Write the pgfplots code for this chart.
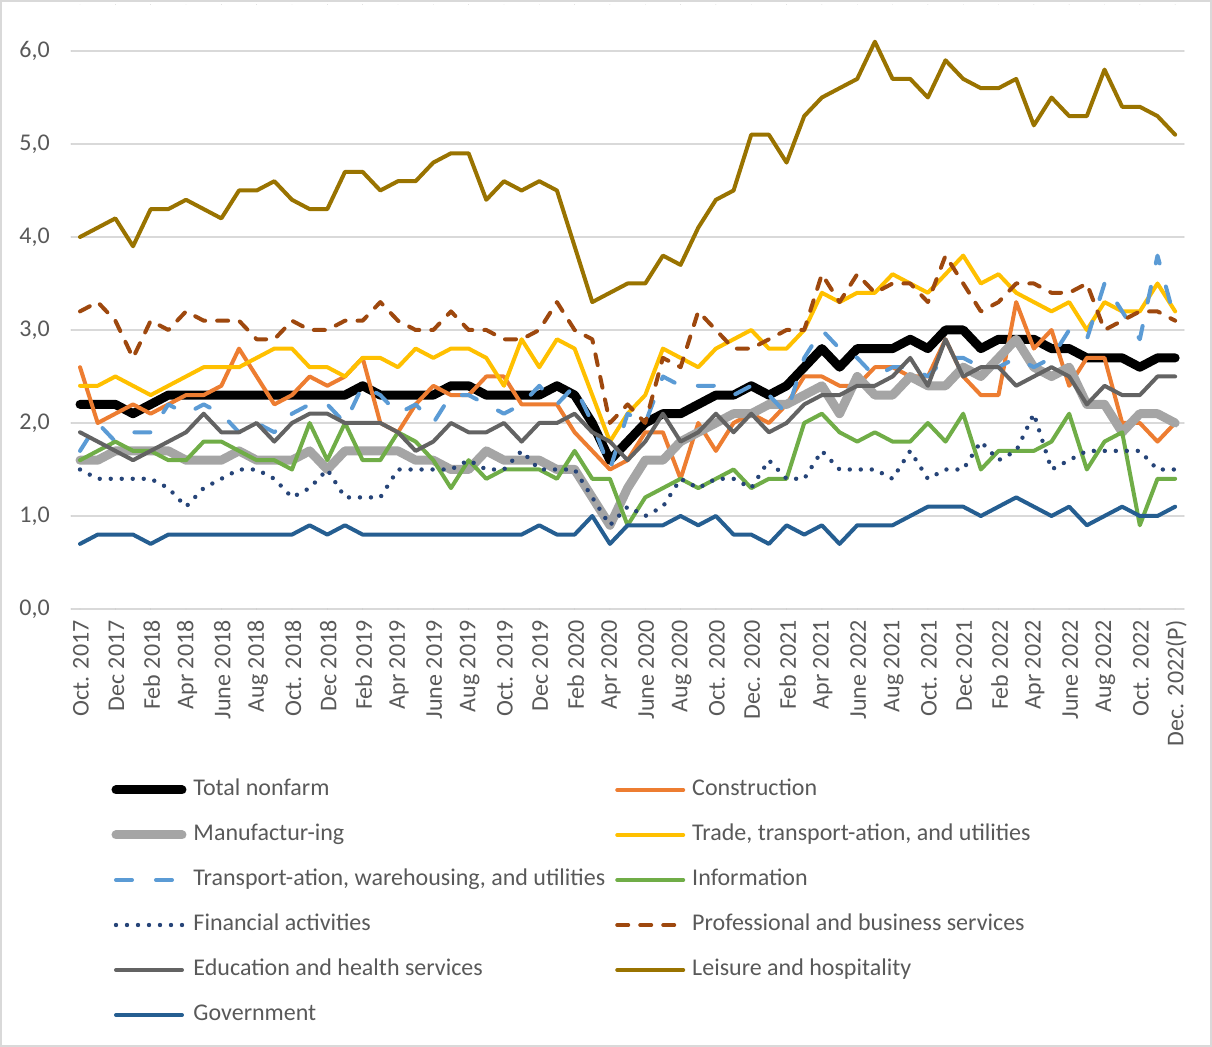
\documentclass[border=0pt]{standalone}
\usepackage{fontspec}
\setmainfont{Carlito}
\usepackage{pgfplots}
\pgfplotsset{compat=1.18}
\usepackage{pgfplotstable}
\definecolor{gridc}{HTML}{D9D9D9}
\definecolor{labc}{HTML}{595959}
\definecolor{cC}{HTML}{ED7D31}
\definecolor{cM}{HTML}{A5A5A5}
\definecolor{cTr}{HTML}{FFC000}
\definecolor{cTw}{HTML}{5B9BD5}
\definecolor{cI}{HTML}{70AD47}
\definecolor{cF}{HTML}{264478}
\definecolor{cP}{HTML}{9E480E}
\definecolor{cE}{HTML}{636363}
\definecolor{cL}{HTML}{997300}
\definecolor{cG}{HTML}{255E91}
\pgfplotstableread{
x T C M Tr Tw I F P E L G
0 2.2 2.6 1.6 2.4 1.7 1.6 1.5 3.2 1.9 4.0 0.7
1 2.2 2.0 1.6 2.4 2.0 1.7 1.4 3.3 1.8 4.1 0.8
2 2.2 2.1 1.7 2.5 1.8 1.8 1.4 3.1 1.7 4.2 0.8
3 2.1 2.2 1.7 2.4 1.9 1.7 1.4 2.7 1.6 3.9 0.8
4 2.2 2.1 1.7 2.3 1.9 1.7 1.4 3.1 1.7 4.3 0.7
5 2.3 2.2 1.7 2.4 2.2 1.6 1.3 3.0 1.8 4.3 0.8
6 2.3 2.3 1.6 2.5 2.1 1.6 1.1 3.2 1.9 4.4 0.8
7 2.3 2.3 1.6 2.6 2.2 1.8 1.3 3.1 2.1 4.3 0.8
8 2.3 2.4 1.6 2.6 2.1 1.8 1.4 3.1 1.9 4.2 0.8
9 2.3 2.8 1.7 2.6 1.9 1.7 1.5 3.1 1.9 4.5 0.8
10 2.3 2.5 1.6 2.7 2.0 1.6 1.5 2.9 2.0 4.5 0.8
11 2.3 2.2 1.6 2.8 1.9 1.6 1.4 2.9 1.8 4.6 0.8
12 2.3 2.3 1.6 2.8 2.1 1.5 1.2 3.1 2.0 4.4 0.8
13 2.3 2.5 1.7 2.6 2.2 2.0 1.3 3.0 2.1 4.3 0.9
14 2.3 2.4 1.5 2.6 2.2 1.6 1.5 3.0 2.1 4.3 0.8
15 2.3 2.5 1.7 2.5 2.0 2.0 1.2 3.1 2.0 4.7 0.9
16 2.4 2.7 1.7 2.7 2.4 1.6 1.2 3.1 2.0 4.7 0.8
17 2.3 2.0 1.7 2.7 2.3 1.6 1.2 3.3 2.0 4.5 0.8
18 2.3 1.9 1.7 2.6 2.1 1.9 1.5 3.1 1.9 4.6 0.8
19 2.3 2.2 1.6 2.8 2.2 1.8 1.5 3.0 1.7 4.6 0.8
20 2.3 2.4 1.6 2.7 2.0 1.6 1.5 3.0 1.8 4.8 0.8
21 2.4 2.3 1.5 2.8 2.3 1.3 1.5 3.2 2.0 4.9 0.8
22 2.4 2.3 1.5 2.8 2.3 1.6 1.6 3.0 1.9 4.9 0.8
23 2.3 2.5 1.7 2.7 2.2 1.4 1.5 3.0 1.9 4.4 0.8
24 2.3 2.5 1.6 2.4 2.1 1.5 1.5 2.9 2.0 4.6 0.8
25 2.3 2.2 1.6 2.9 2.2 1.5 1.7 2.9 1.8 4.5 0.8
26 2.3 2.2 1.6 2.6 2.4 1.5 1.5 3.0 2.0 4.6 0.9
27 2.4 2.2 1.5 2.9 2.2 1.4 1.5 3.3 2.0 4.5 0.8
28 2.3 1.9 1.5 2.8 2.4 1.7 1.5 3.0 2.1 3.9 0.8
29 2.0 1.7 1.2 2.3 2.0 1.4 1.2 2.9 1.9 3.3 1.0
30 1.6 1.5 0.9 1.8 1.5 1.4 0.9 2.0 1.8 3.4 0.7
31 1.8 1.6 1.3 2.1 2.1 0.9 1.1 2.2 1.6 3.5 0.9
32 2.0 1.9 1.6 2.3 2.0 1.2 1.0 2.0 1.8 3.5 0.9
33 2.1 1.9 1.6 2.8 2.5 1.3 1.1 2.7 2.1 3.8 0.9
34 2.1 1.4 1.8 2.7 2.4 1.4 1.4 2.6 1.8 3.7 1.0
35 2.2 2.0 1.9 2.6 2.4 1.3 1.3 3.2 1.9 4.1 0.9
36 2.3 1.7 2.0 2.8 2.4 1.4 1.4 3.0 2.1 4.4 1.0
37 2.3 2.0 2.1 2.9 2.3 1.5 1.4 2.8 1.9 4.5 0.8
38 2.4 2.1 2.1 3.0 2.4 1.3 1.3 2.8 2.1 5.1 0.8
39 2.3 2.0 2.2 2.8 2.3 1.4 1.6 2.9 1.9 5.1 0.7
40 2.4 2.2 2.2 2.8 2.1 1.4 1.4 3.0 2.0 4.8 0.9
41 2.6 2.5 2.3 3.0 2.7 2.0 1.4 3.0 2.2 5.3 0.8
42 2.8 2.5 2.4 3.4 3.0 2.1 1.7 3.6 2.3 5.5 0.9
43 2.6 2.4 2.1 3.3 2.8 1.9 1.5 3.3 2.3 5.6 0.7
44 2.8 2.4 2.5 3.4 2.7 1.8 1.5 3.6 2.4 5.7 0.9
45 2.8 2.6 2.3 3.4 2.5 1.9 1.5 3.4 2.4 6.1 0.9
46 2.8 2.6 2.3 3.6 2.6 1.8 1.4 3.5 2.5 5.7 0.9
47 2.9 2.5 2.5 3.5 2.6 1.8 1.7 3.5 2.7 5.7 1.0
48 2.8 2.5 2.4 3.4 2.5 2.0 1.4 3.3 2.4 5.5 1.1
49 3.0 2.9 2.4 3.6 2.7 1.8 1.5 3.8 2.9 5.9 1.1
50 3.0 2.5 2.6 3.8 2.7 2.1 1.5 3.5 2.5 5.7 1.1
51 2.8 2.3 2.5 3.5 2.6 1.5 1.8 3.2 2.6 5.6 1.0
52 2.9 2.3 2.7 3.6 2.6 1.7 1.6 3.3 2.6 5.6 1.1
53 2.9 3.3 2.9 3.4 2.7 1.7 1.7 3.5 2.4 5.7 1.2
54 2.9 2.8 2.6 3.3 2.6 1.7 2.1 3.5 2.5 5.2 1.1
55 2.8 3.0 2.5 3.2 2.7 1.8 1.5 3.4 2.6 5.5 1.0
56 2.8 2.4 2.6 3.3 3.0 2.1 1.6 3.4 2.5 5.3 1.1
57 2.7 2.7 2.2 3.0 2.9 1.5 1.7 3.5 2.2 5.3 0.9
58 2.7 2.7 2.2 3.3 3.5 1.8 1.7 3.0 2.4 5.8 1.0
59 2.7 2.0 1.9 3.2 3.2 1.9 1.7 3.1 2.3 5.4 1.1
60 2.6 2.0 2.1 3.2 2.9 0.9 1.7 3.2 2.3 5.4 1.0
61 2.7 1.8 2.1 3.5 3.8 1.4 1.5 3.2 2.5 5.3 1.0
62 2.7 2.0 2.0 3.2 3.1 1.4 1.5 3.1 2.5 5.1 1.1
}\data
\begin{document}
\begin{tikzpicture}
\path[use as bounding box] (-35.6pt,-219pt) rectangle (570.4pt,304.5pt);
\draw[gridc, line width=0.75pt] (-35.2pt,-218.6pt) rectangle (570pt,304.1pt);
\begin{axis}[
  at={(0,0)}, anchor=south west,
  scale only axis, width=556.4pt, height=302.25pt,
  xmin=-0.5, xmax=62.5, ymin=0, ymax=6.5,
  axis line style={draw=none},
  major tick length=0pt,
  ymajorgrids, major grid style={gridc, line width=0.75pt},
  ytick={0,1,2,3,4,5,6},
  yticklabels={{0,0},{1,0},{2,0},{3,0},{4,0},{5,0},{6,0}},
  yticklabel style={anchor=east, inner sep=0pt, xshift=-10.5pt},
  xtick={0,2,...,62},
  xticklabels={Oct. 2017,Dec 2017,Feb 2018,Apr 2018,June 2018,Aug 2018,Oct. 2018,Dec 2018,Feb 2019,Apr 2019,June 2019,Aug 2019,Oct. 2019,Dec 2019,Feb 2020,Apr 2020,June 2020,Aug 2020,Oct. 2020,Dec. 2020,Feb 2021,Apr 2021,June 2022,Aug 2021,Oct. 2021,Dec 2021,Feb 2022,Apr 2022,June 2022,Aug 2022,Oct. 2022,Dec. 2022(P)},
  xticklabel style={yshift=-5.5pt, xshift=0.5pt, rotate=90, anchor=east, inner sep=0pt},
  tick label style={font=\fontsize{12}{14}\selectfont, text=labc},
  line join=round, line cap=round,
  legend columns=2,
  legend cell align=left,
  legend image code/.code={\draw[line cap=round, #1] (0pt,0pt) -- (33pt,0pt);},
  legend style={at={(0,0)}, anchor=north west, xshift=20.15pt, yshift=-85pt,
    draw=none, fill=none, inner sep=0pt, outer sep=0pt,
    font=\fontsize{12}{14}\selectfont, text=labc,
    row sep=11.5pt, column sep=3.5pt,
    nodes={inner sep=0pt, text height=8.5pt, text depth=2.5pt},
    /tikz/every even column/.append style={column sep=5pt}},
  every axis plot/.append style={no markers},
]
\addplot[black, line width=4.5pt] table[x=x,y=T]{\data};
\addlegendentry{Total nonfarm}
\addplot[cC, line width=2pt] table[x=x,y=C]{\data};
\addlegendentry{Construction}
\addplot[cM, line width=4.5pt] table[x=x,y=M]{\data};
\addlegendentry{Manufactur-ing}
\addplot[cTr, line width=2pt] table[x=x,y=Tr]{\data};
\addlegendentry{Trade, transport-ation, and utilities}
\addplot[cTw, line width=2pt, dash pattern=on 8pt off 12pt] table[x=x,y=Tw]{\data};
\addlegendentry{Transport-ation, warehousing, and utilities}
\addplot[cI, line width=2pt] table[x=x,y=I]{\data};
\addlegendentry{Information}
\addplot[cF, line width=2.2pt, dash pattern=on 0pt off 5.5pt] table[x=x,y=F]{\data};
\addlegendentry{Financial activities}
\addplot[cP, line width=2pt, dash pattern=on 5.5pt off 6pt] table[x=x,y=P]{\data};
\addlegendentry{Professional and business services}
\addplot[cE, line width=2pt] table[x=x,y=E]{\data};
\addlegendentry{Education and health services}
\addplot[cL, line width=2pt] table[x=x,y=L]{\data};
\addlegendentry{Leisure and hospitality}
\addplot[cG, line width=2pt] table[x=x,y=G]{\data};
\addlegendentry{Government}
\end{axis}
\end{tikzpicture}
\end{document}
